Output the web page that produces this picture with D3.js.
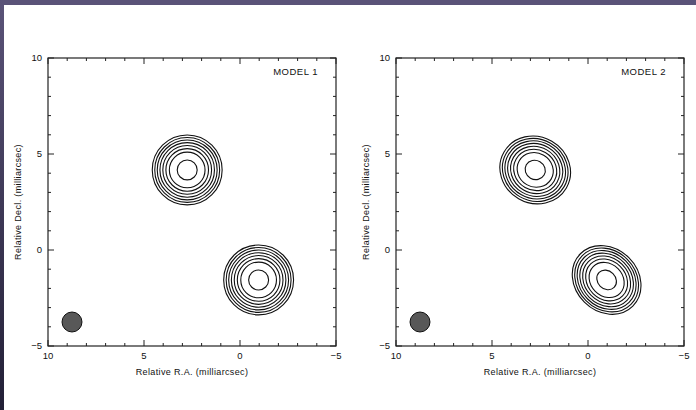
<!DOCTYPE html>
<html>
<head>
<meta charset="utf-8">
<script src="https://cdn.jsdelivr.net/npm/d3@7"></script>
<style>
html,body{margin:0;padding:0;background:#fff;}
svg{display:block;font-family:"Liberation Sans",Arial,sans-serif;}
</style>
</head>
<body>
<div id="chart"></div>
<script>
(function(){

const width = 696;
const height = 410;

// data
const panelNames = ["MODEL 1", "MODEL 2"];
const srcRA = [2.75, -0.97];
const srcDec = [4.17, -1.56];
// contour radii (mas) of each component
const ringRadii = [0.52, 0.93, 1.11, 1.27, 1.42, 1.56, 1.69, 1.82];
// per panel, per component: major / minor scale and position angle (deg)
const majorScale = [[1, 1], [1.03, 1.06]];
const minorScale = [[1, 1], [0.95, 0.9]];
const posAngle = [[0, 0], [30, 45]];
const beamRA = 8.75;
const beamDec = -3.75;
const beamRadius = 0.52;
const majorTicks = [10, 5, 0, -5];
const minorTicks = d3.range(-5, 11, 1);

const svg = d3.select("#chart")
.append("svg")
.attr("width", width)
.attr("height", height);

// frame border of the slide
const grad = svg.append("defs").append("linearGradient")
.attr("id","side").attr("x1",0).attr("y1",0).attr("x2",0).attr("y2",1);
grad.append("stop").attr("offset","0%").attr("stop-color","#5a5378");
grad.append("stop").attr("offset","100%").attr("stop-color","#221f36");
svg.append("rect").attr("x",0).attr("y",0).attr("width",width).attr("height",5).attr("fill","#5a5378");
svg.append("rect").attr("x",0).attr("y",0).attr("width",4).attr("height",height).attr("fill","url(#side)");

const size = 288;
const offsets = [48, 396];
const top = 58;

panelNames.forEach((name, p) => {

const x = d3.scaleLinear().domain([10, -5]).range([offsets[p], offsets[p] + size]);
const y = d3.scaleLinear().domain([-5, 10]).range([top + size, top]);
const pxPerUnit = size / 15;

const g = svg.append("g");

// ticks, inward on all sides
const tickLen = v => (v % 5 === 0 ? 6 : 3);
g.selectAll("line.tb").data(minorTicks).enter().append("line")
.attr("x1", d => x(d)).attr("x2", d => x(d))
.attr("y1", y(-5)).attr("y2", d => y(-5) - tickLen(d))
.attr("stroke","#222").attr("stroke-width",1);
g.selectAll("line.tt").data(minorTicks).enter().append("line")
.attr("x1", d => x(d)).attr("x2", d => x(d))
.attr("y1", y(10)).attr("y2", d => y(10) + tickLen(d))
.attr("stroke","#222").attr("stroke-width",1);
g.selectAll("line.tl").data(minorTicks).enter().append("line")
.attr("y1", d => y(d)).attr("y2", d => y(d))
.attr("x1", x(10)).attr("x2", d => x(10) + tickLen(d))
.attr("stroke","#222").attr("stroke-width",1);
g.selectAll("line.tr").data(minorTicks).enter().append("line")
.attr("y1", d => y(d)).attr("y2", d => y(d))
.attr("x1", x(-5)).attr("x2", d => x(-5) - tickLen(d))
.attr("stroke","#222").attr("stroke-width",1);

g.append("rect")
.attr("x", x(10)).attr("y", y(10))
.attr("width", size).attr("height", size)
.attr("fill","none").attr("stroke","#222").attr("stroke-width",1.2);

const fmt = v => (v < 0 ? "\u2212" + Math.abs(v) : String(v));

// tick labels
g.selectAll("text.xl").data(majorTicks).enter().append("text")
.attr("x", d => x(d)).attr("y", y(-5) + 13)
.attr("text-anchor","middle").attr("font-size","9.5px").attr("fill","#111")
.text(fmt);
g.selectAll("text.yl").data(majorTicks).enter().append("text")
.attr("x", x(10) - 6).attr("y", d => y(d) + 3)
.attr("text-anchor","end").attr("font-size","9.5px").attr("fill","#111")
.text(fmt);

// axis titles
g.append("text")
.attr("x", (x(10) + x(-5)) / 2).attr("y", y(-5) + 29)
.attr("text-anchor","middle").attr("font-size","9px").attr("letter-spacing","0.35px").attr("fill","#111")
.text("Relative R.A. (milliarcsec)");
g.append("text")
.attr("transform", `translate(${x(10) - 27},${(y(10) + y(-5)) / 2}) rotate(-90)`)
.attr("text-anchor","middle").attr("font-size","9px").attr("letter-spacing","0.35px").attr("fill","#111")
.text("Relative Decl. (milliarcsec)");

g.append("text")
.attr("x", x(-5) - 18).attr("y", y(9.1))
.attr("text-anchor","end").attr("font-size","9.5px").attr("letter-spacing","0.5px").attr("fill","#111")
.text(name);

// contours
srcRA.forEach((ra, c) => {
const comp = g.append("g")
.attr("transform", `translate(${x(ra)},${y(srcDec[c])}) rotate(${posAngle[p][c]})`);
comp.selectAll("ellipse").data(ringRadii).enter().append("ellipse")
.attr("cx",0).attr("cy",0)
.attr("rx", r => r * pxPerUnit * majorScale[p][c])
.attr("ry", r => r * pxPerUnit * minorScale[p][c])
.attr("fill","none").attr("stroke","#111").attr("stroke-width",1.1);
});

// beam
g.append("circle")
.attr("cx", x(beamRA)).attr("cy", y(beamDec))
.attr("r", beamRadius * pxPerUnit)
.attr("fill","#585858").attr("stroke","#111").attr("stroke-width",1);
});

})();
</script>
</body>
</html>
